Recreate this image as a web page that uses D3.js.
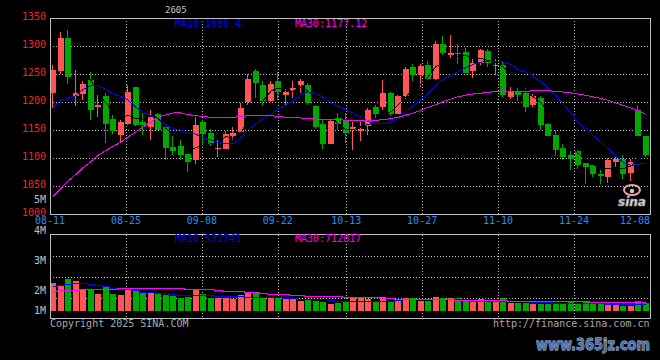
<!DOCTYPE html>
<html><head><meta charset="utf-8">
<script src="https://cdn.jsdelivr.net/npm/d3@7"></script>
<style>html,body{margin:0;padding:0;background:#000;}svg{display:block;}</style>
</head><body>
<svg id="c" width="660" height="360"></svg>
<script>
// ---------- data ----------
const dates = ["08-11","08-12","08-13","08-14","08-15","08-18","08-19","08-20","08-21","08-22",
"08-25","08-26","08-27","08-28","08-29","09-01","09-02","09-03","09-04","09-05",
"09-08","09-09","09-10","09-11","09-12","09-15","09-16","09-17","09-18","09-19",
"09-22","09-23","09-24","09-25","09-26","09-29","09-30","10-09","10-10",
"10-13","10-14","10-15","10-16","10-17","10-20","10-21","10-22","10-23","10-24",
"10-27","10-28","10-29","10-30","10-31","11-03","11-04","11-05","11-06","11-07",
"11-10","11-11","11-12","11-13","11-14","11-17","11-18","11-19","11-20","11-21",
"11-24","11-25","11-26","11-27","11-28","12-01","12-02","12-03","12-04","12-05","12-08"];
const open  = [1215,1256,1315,1211,1214,1239,1190,1211,1170,1141,1161,1226,1164,1154,1178,1154,1119,1121,1107,1095,
1164,1144,1117,1116,1139,1146,1199,1255,1230,1202,1237,1212,1220,1230,1230,1192,1160,1125,1171,1166,
1150,1148,1156,1191,1190,1216,1179,1211,1262,1248,1266,1241,1304,1283,1288,1290,1255,1270,1291,1265,
1266,1209,1220,1216,1195,1207,1161,1141,1118,1105,1111,1091,1086,1070,1066,1093,1098,1073,1186,1138];
const high  = [1266,1325,1329,1257,1238,1254,1212,1216,1177,1168,1230,1227,1180,1185,1180,1156,1139,1132,1107,1173,
1168,1151,1132,1148,1154,1198,1250,1259,1237,1237,1253,1223,1237,1241,1233,1195,1168,1168,1180,1180,
1164,1164,1188,1195,1239,1217,1212,1263,1268,1268,1273,1308,1317,1320,1304,1297,1277,1295,1294,1277,
1273,1227,1225,1225,1214,1211,1162,1150,1125,1112,1113,1091,1089,1077,1100,1104,1105,1098,1195,1139];
const low   = [1188,1250,1231,1192,1203,1168,1173,1126,1143,1126,1159,1156,1141,1132,1149,1096,1105,1096,1074,1089,
1121,1121,1101,1116,1132,1146,1195,1207,1192,1199,1203,1194,1207,1215,1195,1152,1116,1125,1150,1127,
1114,1130,1141,1171,1186,1174,1178,1205,1237,1227,1239,1239,1284,1276,1267,1251,1243,1265,1263,1248,
1209,1205,1202,1182,1191,1150,1138,1103,1095,1077,1080,1052,1066,1052,1055,1084,1061,1059,1138,1102];
const close = [1257,1315,1245,1215,1231,1186,1195,1161,1147,1163,1217,1159,1159,1175,1150,1118,1112,1105,1093,1159,
1143,1125,1118,1143,1145,1188,1240,1233,1202,1232,1217,1218,1225,1237,1197,1154,1125,1165,1161,1145,
1154,1151,1186,1179,1216,1179,1211,1259,1248,1264,1241,1304,1288,1288,1285,1252,1270,1292,1270,1266,
1212,1219,1212,1191,1211,1159,1139,1113,1102,1098,1086,1084,1070,1068,1095,1098,1071,1093,1139,1104];
const volume = [2240000,2030000,2540000,2380000,1740000,1710000,1340000,1920000,1340000,1260000,
1820000,1600000,1520000,1380000,1360000,1260000,1200000,1050000,1130000,1750000,
1350000,1050000,1050000,1050000,950000,1270000,1470000,1400000,1130000,1050000,
1130000,1050000,950000,810000,870000,810000,730000,560000,650000,780000,
1000000,990000,940000,780000,1070000,750000,780000,990000,990000,780000,
800000,1080000,1000000,1000000,1000000,800000,800000,920000,740000,800000,
1000000,600000,600000,600000,550000,520000,550000,520000,550000,700000,
540000,700000,510000,510000,460000,460000,380000,380000,780000,600000];
const ma10 = [1190,1203,1206,1211,1222,1229,1229,1222,1214,1210,1203,1190,1182,1175,1169,1159,1152,1149,1144,1142,
1135,1132,1127,1125,1125,1136,1150,1161,1171,1177,1187,1194,1202,1212,1218,1215,1208,1199,1192,1186,
1180,1173,1165,1161,1161,1163,1171,1182,1193,1204,1215,1229,1240,1248,1254,1261,1267,1271,1273,1273,
1272,1267,1258,1253,1245,1236,1224,1211,1196,1180,1163,1152,1139,1128,1116,1102,1092,1086,1088,1090.4];
const ma30 = [1030,1045,1058,1070,1082,1093,1104,1113,1120,1128,1137,1146,1155,1164,1172,1177,1180,1180,1177,1175,
1174,1172,1171,1171,1172,1174,1175,1175,1175,1175,1174,1172,1171,1171,1170,1169,1169,1168,1168,1167,
1166.5,1166,1166,1167,1168,1170,1172,1176,1180,1185,1190,1195,1200,1205,1209,1212,1214,1215.5,1217,1218.5,
1219.5,1219,1218.5,1219,1219.5,1219.5,1219.5,1219,1217.5,1216,1214,1211.5,1209,1206,1202.5,1198,1193.5,1189,1184,1177.12];
const volMa10 = [2000000,2080000,2160000,2210000,2210000,2130000,2050000,1950000,1810000,1750000,
1700000,1630000,1490000,1490000,1410000,1410000,1360000,1280000,1280000,1260000,
1260000,1230000,1200000,1200000,1150000,1150000,1090000,1090000,1070000,1070000,
1070000,1010000,1010000,960000,960000,930000,930000,830000,750000,750000,
750000,750000,800000,800000,800000,800000,850000,930000,930000,930000,
930000,930000,930000,930000,930000,850000,800000,800000,800000,800000,
800000,750000,750000,750000,720000,670000,670000,610000,610000,610000,
610000,610000,610000,580000,560000,560000,560000,560000,550000,532741];
const volMa30 = [1600000,1630000,1660000,1680000,1720000,1760000,1760000,1760000,1760000,1780000,
1800000,1810000,1810000,1810000,1810000,1810000,1810000,1780000,1750000,1730000,
1730000,1730000,1680000,1600000,1600000,1550000,1490000,1490000,1420000,1360000,
1360000,1330000,1280000,1250000,1200000,1200000,1180000,1150000,1150000,1120000,
1070000,1070000,1070000,1070000,1050000,1000000,960000,960000,960000,930000,
930000,930000,930000,900000,880000,860000,850000,850000,850000,830000,
820000,800000,800000,780000,760000,750000,750000,750000,750000,750000,
750000,740000,730000,720000,710000,710000,710000,710000,710000,712817];
const priceTicks = [1350,1300,1250,1200,1150,1100,1050,1000];
const dateTicks = ["08-11","08-25","09-08","09-22","10-13","10-27","11-10","11-24","12-08"];
const volTickLabels = ["5M","4M","3M","2M","1M"];
const titleText = "2605";

// ---------- layout ----------
const W = 660, H = 360;
const L = 50, R = 650, T = 18, B = 213.5, VT = 234.5, VB = 318.5, VBASE = 310.7;
const RED = "#ff5555", GREEN = "#00a800", GRID = "#c0c0c0";
const FONT = "'DejaVu Sans Mono', 'Liberation Mono', monospace";

const svg = d3.select("#c");
svg.append("rect").attr("width", W).attr("height", H).attr("fill", "#000");

const N = close.length;
const idx = d3.range(N);
const xb = d3.scaleBand().domain(idx).range([L, R - 1]).paddingInner(0.2).paddingOuter(0).align(0);
const xd = d3.scaleLinear().domain([0, N - 1]).range([L, R]);
const y = d3.scaleLinear().domain([1000, 1350]).range([B, T]);
const yv = d3.scaleLinear().domain([0, 6e6]).range([VBASE, VBASE - 75]);
const yLab = d3.scaleLinear().domain([5, 4, 3, 2, 1]).range([203, 234, 264, 294, 314]);
const x0 = i => Math.round(xb(i));
const xc = i => Math.round(xb(i)) + 3;

const defs = svg.append("defs");
defs.append("clipPath").attr("id", "cp").append("rect").attr("x", L).attr("y", T).attr("width", R - L).attr("height", B - T);
defs.append("clipPath").attr("id", "cv").append("rect").attr("x", L).attr("y", VT).attr("width", R - L).attr("height", VB - VT);

const grid = svg.append("g").attr("stroke", GRID).attr("stroke-width", 1).attr("stroke-dasharray", "1,2").attr("shape-rendering", "crispEdges");
grid.selectAll("line.h").data(priceTicks.filter(v => v > 1000 && v < 1350)).join("line")
  .attr("x1", L).attr("x2", R).attr("y1", d => Math.round(y(d)) + 0.5).attr("y2", d => Math.round(y(d)) + 0.5);
const vIdx = dateTicks.map(d => dates.indexOf(d)).filter(i => i > 0 && i < N - 1);
grid.selectAll("line.v").data(vIdx).join("line")
  .attr("x1", d => Math.round(xd(d)) + 0.5).attr("x2", d => Math.round(xd(d)) + 0.5).attr("y1", T).attr("y2", B);
grid.selectAll("line.vv").data(vIdx).join("line")
  .attr("x1", d => Math.round(xd(d)) + 0.5).attr("x2", d => Math.round(xd(d)) + 0.5).attr("y1", VT).attr("y2", VB);
grid.selectAll("line.hv").data([1, 2, 3]).join("line")
  .attr("x1", L).attr("x2", R)
  .attr("y1", d => Math.round(VT + (VB - VT) * d / 4) + 0.5).attr("y2", d => Math.round(VT + (VB - VT) * d / 4) + 0.5);

// ---------- candles ----------
const col = i => (close[i] >= open[i]) ? RED : GREEN;
const cg = svg.append("g").attr("shape-rendering", "crispEdges").attr("clip-path", "url(#cp)");
cg.selectAll("rect.w").data(idx).join("rect")
  .attr("x", i => x0(i) + 2).attr("width", 1)
  .attr("y", i => y(high[i])).attr("height", i => Math.max(1, y(low[i]) - y(high[i])))
  .attr("fill", col);
cg.selectAll("rect.b").data(idx).join("rect")
  .attr("x", i => x0(i)).attr("width", 6)
  .attr("y", i => y(Math.max(open[i], close[i])))
  .attr("height", i => Math.max(1, Math.abs(y(open[i]) - y(close[i]))))
  .attr("fill", col);

// ---------- MA lines ----------
const ma5 = idx.map(i => i >= 4 ? d3.mean(close.slice(i - 4, i + 1)) : null);
const lineP = d3.line().defined(d => d[1] != null).x(d => xc(d[0])).y(d => y(d[1]));
const lg = svg.append("g").attr("fill", "none").attr("stroke-width", 1).attr("clip-path", "url(#cp)").attr("shape-rendering", "crispEdges");
lg.append("path").attr("d", lineP(idx.map(i => [i, ma5[i]]))).attr("stroke", "#000");
lg.append("path").attr("d", lineP(idx.map(i => [i, ma10[i]]))).attr("stroke", "#0000ff");
lg.append("path").attr("d", lineP(idx.map(i => [i, ma30[i]]))).attr("stroke", "#ff00ff");

// ---------- volume ----------
const vg = svg.append("g").attr("shape-rendering", "crispEdges").attr("clip-path", "url(#cv)");
vg.selectAll("rect").data(idx).join("rect")
  .attr("x", i => x0(i)).attr("width", 6)
  .attr("y", i => yv(volume[i])).attr("height", i => VBASE - yv(volume[i]))
  .attr("fill", col);
const lineV = d3.line().x(d => xc(d[0])).y(d => Math.round(yv(d[1])) + 0.5).curve(d3.curveStep);
const vl = svg.append("g").attr("fill", "none").attr("stroke-width", 1).attr("clip-path", "url(#cv)").attr("shape-rendering", "crispEdges");
vl.append("path").attr("d", lineV(idx.map(i => [i, volMa10[i]]))).attr("stroke", "#0000ff");
vl.append("path").attr("d", lineV(idx.map(i => [i, volMa30[i]]))).attr("stroke", "#ff00ff");

// ---------- borders ----------
const bd = svg.append("g").attr("fill", "none").attr("stroke", GRID).attr("shape-rendering", "crispEdges");
bd.append("rect").attr("x", L + 0.5).attr("y", T + 0.5).attr("width", R - L).attr("height", Math.round(B - T));
bd.append("rect").attr("x", L + 0.5).attr("y", VT).attr("width", R - L).attr("height", VB - VT);

// ---------- texts ----------
const tx = svg.append("g").attr("font-family", FONT).attr("font-size", 10);
tx.selectAll("text.py").data(priceTicks).join("text")
  .attr("x", 46).attr("y", d => y(d) + 2).attr("text-anchor", "end").attr("fill", "#ff2020").text(d => d);
tx.selectAll("text.vy").data(volTickLabels).join("text")
  .attr("x", 46).attr("y", d => yLab(parseFloat(d))).attr("text-anchor", "end").attr("fill", "#c0c0c0").text(d => d);
tx.selectAll("text.dx").data(dateTicks).join("text")
  .attr("x", (d, k) => k === dateTicks.length - 1 ? R : xd(dates.indexOf(d)))
  .attr("y", 224).attr("text-anchor", (d, k) => k === dateTicks.length - 1 ? "end" : "middle")
  .attr("fill", "#1e8fff").text(d => d);
tx.append("text").attr("x", 175).attr("y", 27.3).attr("fill", "#0000ff").text("MA10:" + ma10[N - 1]);
tx.append("text").attr("x", 295).attr("y", 27.3).attr("fill", "#ff00ff").text("MA30:" + ma30[N - 1]);
tx.append("text").attr("x", 175).attr("y", 241.7).attr("fill", "#0000ff").text("MA10:" + volMa10[N - 1]);
tx.append("text").attr("x", 295).attr("y", 241.7).attr("fill", "#ff00ff").text("MA30:" + volMa30[N - 1]);
tx.append("text").attr("x", L).attr("y", 327).attr("fill", "#a8a8a8").text("Copyright 2025 SINA.COM");
tx.append("text").attr("x", 649.5).attr("y", 327).attr("text-anchor", "end").attr("fill", "#a8a8a8").text("http://finance.sina.com.cn");
tx.append("text").attr("x", 165).attr("y", 13).attr("font-size", 9).attr("fill", "#c8c8c8").text(titleText);

// sina logo (approximation)
const lo = svg.append("g");
lo.append("ellipse").attr("cx", 632).attr("cy", 190).attr("rx", 8).attr("ry", 5).attr("fill", "none").attr("stroke", "#f0a0a8").attr("stroke-width", 2);
lo.append("circle").attr("cx", 632).attr("cy", 191).attr("r", 2.2).attr("fill", "#c8c8c8");
lo.append("text").attr("x", 618).attr("y", 206).attr("font-family", "'DejaVu Sans', sans-serif").attr("font-weight", "bold").attr("font-style", "italic")
  .attr("font-size", 12).attr("fill", "#e0e0e0").attr("stroke", "#909090").attr("stroke-width", 0.6).text("sina");

// watermark
svg.append("text").attr("x", 536).attr("y", 350).attr("font-family", "'DejaVu Sans', sans-serif").attr("font-weight", "bold")
  .attr("font-size", 15).attr("textLength", 114).attr("lengthAdjust", "spacingAndGlyphs")
  .attr("fill", "#4e72aa").attr("stroke", "#c8d4e8").attr("stroke-width", 0.8).attr("paint-order", "stroke").text("www.365jz.com");
</script>
</body></html>
